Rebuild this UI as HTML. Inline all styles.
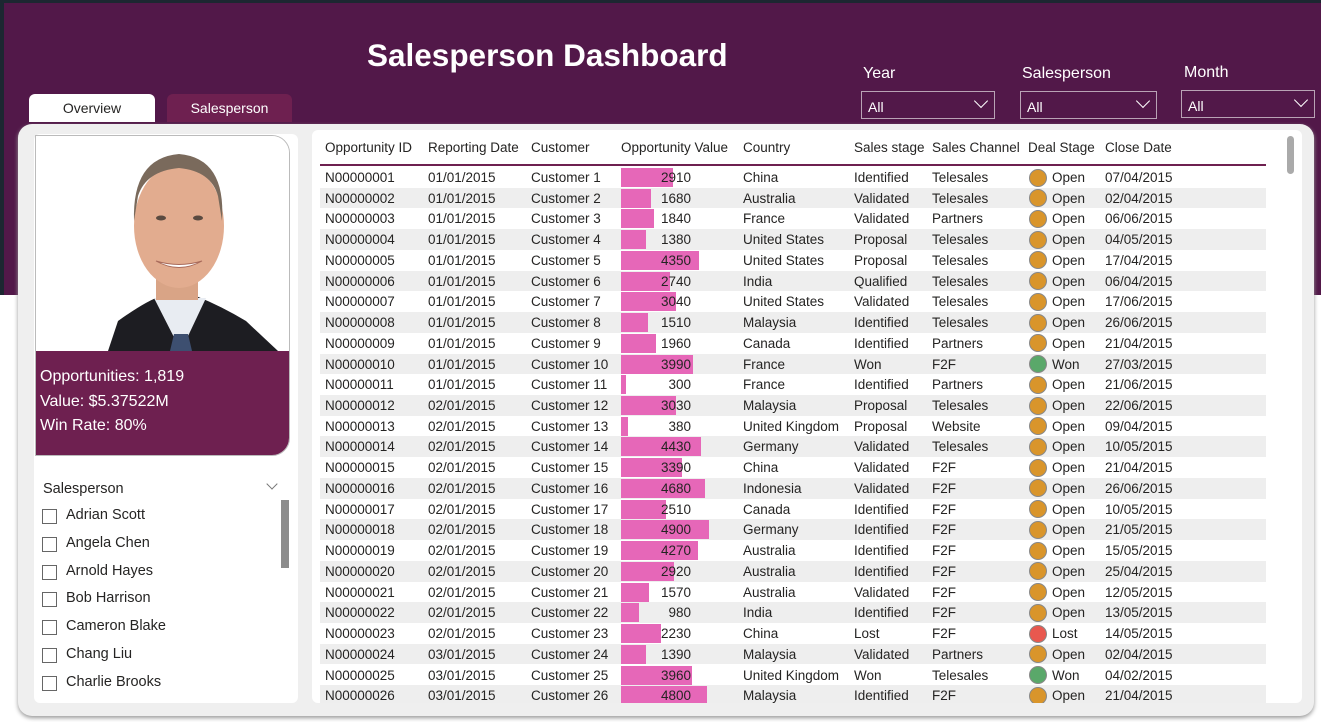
<!DOCTYPE html>
<html><head><meta charset="utf-8">
<style>
*{box-sizing:border-box;margin:0;padding:0}
body{width:1321px;height:722px;overflow:hidden;background:#fff;font-family:"Liberation Sans",sans-serif;position:relative}
.abs{position:absolute}
#hdr{left:0;top:0;width:1321px;height:295px;background:#521849;border-top:3px solid #1c2731;border-left:4px solid #1c2731}
#title{left:367px;top:37px;font-size:31.5px;font-weight:bold;color:#fff}
.tab{top:94px;height:28px;border-radius:6px 6px 0 0;font-size:14px;text-align:center;line-height:28px}
.flabel{color:#fff;font-size:16px}
.fbox{height:28px;border:1px solid #b9a3b5;color:#fff;font-size:14px;padding:7px 0 0 6px}
.chev{position:absolute;right:8px;top:4px;width:10px;height:10px;border-right:1.5px solid #fff;border-bottom:1.5px solid #fff;transform:rotate(45deg)}
#cont{left:18px;top:124px;width:1296px;height:592px;background:#efefef;border-radius:14px;box-shadow:0 2px 4px #999}
#left{left:34px;top:134px;width:264px;height:569px;background:#fff;border-radius:6px}
#card{left:35px;top:135px;width:255px;height:321px;border:1px solid #bbb;border-radius:0 18px 18px 0;overflow:hidden;background:#fff}
#stats{left:0;top:215px;width:255px;height:106px;background:#6e2050;color:#fff;font-size:16px;padding:14px 0 0 4px;line-height:24.5px}
#tbl{left:312px;top:130px;width:990px;height:573px;background:#fff;border-radius:6px;overflow:hidden;font-size:13.5px;color:#252423}
.th{position:absolute;top:10px}
.cell{position:absolute;white-space:nowrap}
.sp{left:42px;font-size:14.5px;color:#252423}
.cb{left:42px;width:15px;height:15px;border:1px solid #666}
</style></head><body>
<div id="hdr" class="abs"></div>
<div id="title" class="abs">Salesperson Dashboard</div>
<div class="abs tab" style="left:29px;width:126px;background:#fff;color:#252423">Overview</div>
<div class="abs tab" style="left:167px;width:125px;background:#6e2050;color:#fff">Salesperson</div>

<div class="abs flabel" style="left:863px;top:65px">Year</div>
<div class="abs fbox" style="left:861px;top:91px;width:134px">All<span class="chev"></span></div>
<div class="abs flabel" style="left:1022px;top:65px">Salesperson</div>
<div class="abs fbox" style="left:1020px;top:91px;width:137px">All<span class="chev"></span></div>
<div class="abs flabel" style="left:1184px;top:64px">Month</div>
<div class="abs fbox" style="left:1181px;top:90px;width:134px">All<span class="chev"></span></div>

<div id="cont" class="abs"></div>
<div id="left" class="abs"></div>
<div id="card" class="abs">
<svg class="abs" style="left:0;top:0" width="255" height="215">
<rect width="255" height="215" fill="#fff"/>
<path d="M72 215 L82 185 Q110 165 125 160 L160 160 Q185 170 210 185 L242 215Z" fill="#1d1d22"/>
<path d="M118 162 L145 215 L170 162Z" fill="#e8ecf2"/>
<path d="M138 198 L152 198 L156 215 L134 215Z" fill="#3d4f70"/>
<rect x="120" y="130" width="42" height="34" fill="#d9a486"/>
<ellipse cx="143" cy="90" rx="45" ry="62" fill="#e2ac8f"/>
<path d="M98 85 Q96 22 143 18 Q190 22 186 85 L182 60 Q175 35 143 32 Q110 35 102 60Z" fill="#7a6a5c"/>
<path d="M120 125 Q143 138 166 125 Q143 132 120 125Z" fill="#fff" stroke="#a86a5a"/>
<ellipse cx="125" cy="82" rx="5" ry="2.5" fill="#5a4a40"/><ellipse cx="162" cy="82" rx="5" ry="2.5" fill="#5a4a40"/>
</svg>
<div id="stats" class="abs">Opportunities: 1,819<br>Value: $5.37522M<br>Win Rate: 80%</div>
</div>
<div class="abs sp" style="left:43px;top:481px">Salesperson</div>
<div class="abs" style="left:268px;top:480px;width:8px;height:8px;border-right:1px solid #777;border-bottom:1px solid #777;transform:rotate(45deg)"></div>
<div class="abs" style="left:281px;top:500px;width:8px;height:68px;background:#8c8c8c"></div>

<div id="tbl" class="abs">
<div class="abs" style="left:975px;top:6px;width:7px;height:38px;background:#aaa;border-radius:4px"></div>
</div>
<script>
const names=["Adrian Scott","Angela Chen","Arnold Hayes","Bob Harrison","Cameron Blake","Chang Liu","Charlie Brooks"];
names.forEach((n,i)=>{
 const y=509+i*27.8;
 const c=document.createElement('div');c.className='abs cb';c.style.top=(y)+'px';
 
 
 document.body.appendChild(c);
 const t=document.createElement('div');t.className='abs sp';t.style.left='66px';t.style.top=(y-2)+'px';t.textContent=n;
 
 
 document.body.appendChild(t);
});
const dates=["01/01/2015","01/01/2015","01/01/2015","01/01/2015","01/01/2015","01/01/2015","01/01/2015","01/01/2015","01/01/2015","01/01/2015","01/01/2015","02/01/2015","02/01/2015","02/01/2015","02/01/2015","02/01/2015","02/01/2015","02/01/2015","02/01/2015","02/01/2015","02/01/2015","02/01/2015","02/01/2015","03/01/2015","03/01/2015","03/01/2015"];
const values=[2910,1680,1840,1380,4350,2740,3040,1510,1960,3990,300,3030,380,4430,3390,4680,2510,4900,4270,2920,1570,980,2230,1390,3960,4800];
const countries=["China","Australia","France","United States","United States","India","United States","Malaysia","Canada","France","France","Malaysia","United Kingdom","Germany","China","Indonesia","Canada","Germany","Australia","Australia","Australia","India","China","Malaysia","United Kingdom","Malaysia"];
const stages=["Identified","Validated","Validated","Proposal","Proposal","Qualified","Validated","Identified","Identified","Won","Identified","Proposal","Proposal","Validated","Validated","Validated","Identified","Identified","Identified","Identified","Validated","Identified","Lost","Validated","Won","Identified"];
const channels=["Telesales","Telesales","Partners","Telesales","Telesales","Telesales","Telesales","Telesales","Partners","F2F","Partners","Telesales","Website","Telesales","F2F","F2F","F2F","F2F","F2F","F2F","F2F","F2F","F2F","Partners","Telesales","F2F"];
const deals=["Open","Open","Open","Open","Open","Open","Open","Open","Open","Won","Open","Open","Open","Open","Open","Open","Open","Open","Open","Open","Open","Open","Lost","Open","Won","Open"];
const closes=["07/04/2015","02/04/2015","06/06/2015","04/05/2015","17/04/2015","06/04/2015","17/06/2015","26/06/2015","21/04/2015","27/03/2015","21/06/2015","22/06/2015","09/04/2015","10/05/2015","21/04/2015","26/06/2015","10/05/2015","21/05/2015","15/05/2015","25/04/2015","12/05/2015","13/05/2015","14/05/2015","02/04/2015","04/02/2015","21/04/2015"];
const tbl=document.getElementById('tbl');
const xScale=v=>v/5000*90;
function add(parent,cls,style,text,name,inter){
 const d=document.createElement('div');d.className=cls;d.style.cssText=style;if(text!=null)d.textContent=text;
 
 
 parent.appendChild(d);return d;
}
const heads=[["Opportunity ID",13],["Reporting Date",116],["Customer",219],["Opportunity Value",309],["Country",431],["Sales stage",542],["Sales Channel",620],["Deal Stage",716],["Close Date",793]];
heads.forEach(h=>{add(tbl,'th','left:'+h[1]+'px','','column-header','true').textContent=h[0];});
add(tbl,'cell','left:8px;top:34px;width:946px;height:2px;background:#6e2050','','header-divider','false');
const colors={Open:"#d9952b",Won:"#5aa86a",Lost:"#e8584f"};
values.forEach((v,i)=>{
 const top=37+i*20.73;
 add(tbl,'cell','left:8px;top:'+top+'px;width:946px;height:20.7px;background:'+(i%2?'#eeeeee':'#fff'),'','table-row','true');
 const c=(l,t)=>add(tbl,'cell','left:'+l+'px;top:'+(top+3)+'px',t,'table-cell','false');
 const id='N'+String(i+1).padStart(8,'0');
 c(13,id);c(116,dates[i]);c(219,'Customer '+(i+1));
 add(tbl,'cell','left:309px;top:'+(top+1)+'px;width:'+xScale(v)+'px;height:19px;background:#e667b8','','value-bar','false');
 add(tbl,'cell','left:309px;top:'+(top+3)+'px;width:70px;text-align:right',String(v),'value-label','false');
 c(431,countries[i]);c(542,stages[i]);c(620,channels[i]);
 add(tbl,'cell','left:717px;top:'+(top+1.5)+'px;width:18px;height:18px;border-radius:50%;border:1px solid #888;background:'+colors[deals[i]],'','deal-status-dot','false');
 c(740,deals[i]);c(793,closes[i]);
});
</script>
</body></html>
